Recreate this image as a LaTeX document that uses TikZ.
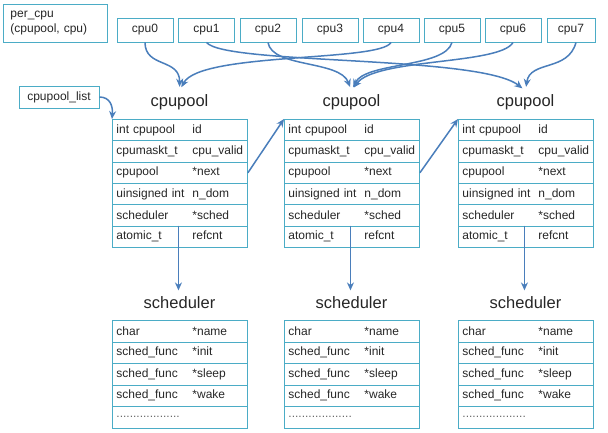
\documentclass[tikz,border=0pt]{standalone}
\usepackage{fontspec}
\setmainfont{Liberation Sans}
\usetikzlibrary{arrows.meta}
\definecolor{boxline}{HTML}{4BACC6}
\definecolor{arrowline}{HTML}{4A7EBB}
\newcommand{\schedtail}{\textcolor{black!60}{...................}}

\begin{document}
\begin{tikzpicture}[x=1pt,y=-1pt,
    box/.style={draw=boxline,line width=0.9pt,inner sep=0pt,text=black!85,
      font=\fontsize{12}{15}\selectfont},
    row/.style={box,anchor=north west,minimum width=135pt,
      inner xsep=4pt,text width=127pt,align=left},
    title/.style={text=black!85,font=\fontsize{16.5}{18}\selectfont},
    link/.style={draw=arrowline,line width=1.5pt,
      -{Stealth[length=8pt,width=7pt]}}]
  \useasboundingbox (0,0) rectangle (608,432);

  % per_cpu and the cpus
  \node[box,anchor=north west,minimum width=104pt,minimum height=38pt,
    inner xsep=7pt,text width=90pt,align=left] (percpu) at (3,4)
    {per\_cpu\\(cpupool, cpu)};
  \foreach \i/\x in {0/145,1/206.5,2/268,3/330,4/391,5/452,6/513}
    \node[box,minimum width=56pt,minimum height=24pt] (cpu\i) at (\x,30) {cpu\i};
  \node[box,minimum width=48pt,minimum height=24pt] (cpu7) at (571,30) {cpu7};
  \node[box,minimum width=80pt,minimum height=22pt] (list) at (59,97) {cpupool\_list};

  % the three cpupools and their schedulers
  \foreach \p/\x in {a/112,b/284,c/458}{
    \node[title] (\p-pool) at (\x+67.5,102) {cpupool};
    \foreach \l/\r [count=\i] in {int cpupool/id,cpumaskt\_t/cpu\_valid,
        cpupool/*next,uinsigned int/n\_dom,scheduler/*sched,atomic\_t/refcnt}
      \node[row,minimum height=21.33pt] (\p-pool-\i) at (\x,{119+(\i-1)*21.33})
        {\makebox[76pt][l]{\l}\r};
    \node[title] (\p-sched) at (\x+67.5,303) {scheduler};
    \foreach \l/\r [count=\i] in {char/*name,sched\_func/*init,sched\_func/*sleep,
        sched\_func/*wake,\schedtail/{}}
      \node[row,minimum height=21.5pt] (\p-sched-\i) at (\x,{320+(\i-1)*21.5})
        {\makebox[76pt][l]{\l}\r};
    \draw[link,shorten >=3pt] ([xshift=-1.5pt]\p-pool-6.north)
      -- ([xshift=-1.5pt]\p-pool-6.north |- \p-sched.north);
  }

  % links
  \draw[link] (list.east) .. controls (110,97) and (113,106) .. (a-pool-1.north west);
  \draw[link] (a-pool-3.east) -- (b-pool-1.north west);
  \draw[link] (b-pool-3.east) -- (c-pool-1.north west);
  \draw[link,shorten >=4pt] (cpu0.south) .. controls (145,68) and (180,58) .. (a-pool.north);
  \draw[link,shorten >=4pt] (cpu4.south) .. controls (380,62) and (200,52) .. (a-pool.north);
  \draw[link,shorten >=4pt] (cpu1.south) .. controls (225,65) and (480,55) .. (c-pool.north);
  \draw[link,shorten >=4pt] (cpu2.south) .. controls (272,68) and (340,60) .. (b-pool.north);
  \draw[link,shorten >=4pt] (cpu5.south) .. controls (445,68) and (365,62) .. (b-pool.north);
  \draw[link,shorten >=4pt] (cpu6.south) .. controls (500,65) and (375,58) .. (b-pool.north);
  \draw[link,shorten >=4pt] ([xshift=5pt]cpu7.south) .. controls (568,72) and (530,60) .. (c-pool.north);
\end{tikzpicture}
\end{document}
